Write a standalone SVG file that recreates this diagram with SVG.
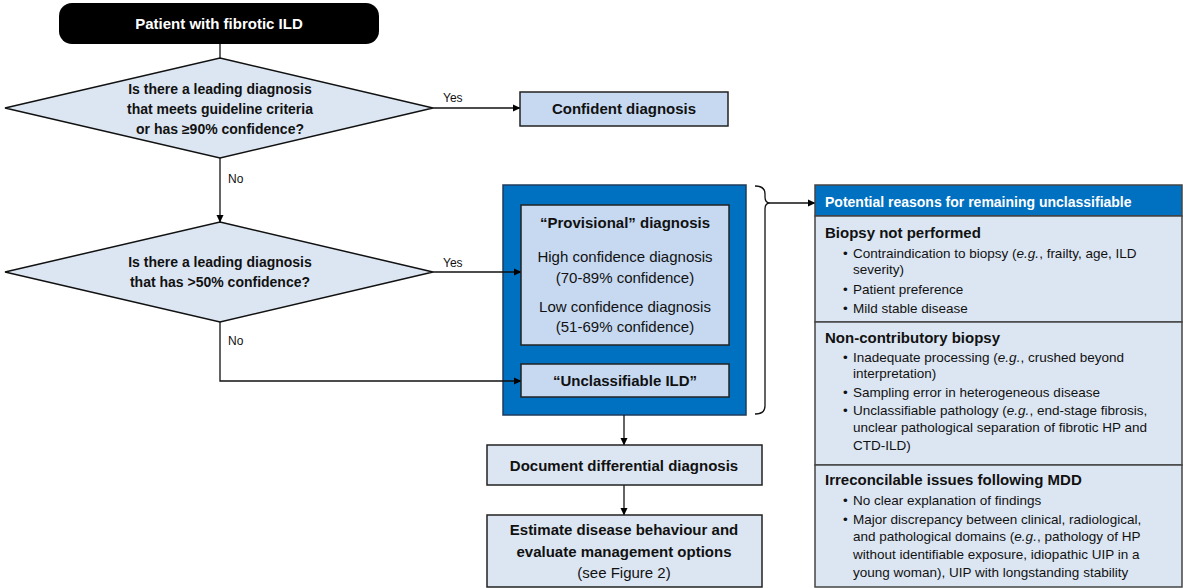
<svg xmlns="http://www.w3.org/2000/svg" width="1183" height="588" viewBox="0 0 1183 588">
<defs>
<marker id="ah" markerWidth="8" markerHeight="8" refX="7" refY="4" orient="auto" markerUnits="userSpaceOnUse">
<path d="M0,0.5 L7.5,4 L0,7.5 Z" fill="#000"/>
</marker>
<style>
text{font-family:"Liberation Sans",Arial,sans-serif;fill:#111;}
.b{font-weight:bold;}
.c{text-anchor:middle;}
.f14{font-size:14px;}
.f15{font-size:15px;}
.lbl{font-size:12px;}
.r{font-size:13.5px;}
.h{font-size:15px;font-weight:bold;}
.w{fill:#fff;}
.dia{fill:#dce6f2;stroke:#111;stroke-width:1.5;}
.box{fill:#c6d9f1;stroke:#222;stroke-width:1.5;}
.box2{fill:#dce6f2;stroke:#222;stroke-width:1.5;}
.sec{fill:#dce6f2;stroke:#444;stroke-width:1.5;}
.ln{fill:none;stroke:#111;stroke-width:1.3;}
</style>
</defs>
<rect width="1183" height="588" fill="#fff"/>

<g id="outcome-group">
<rect x="503" y="185" width="243" height="230" fill="#0070c0" stroke="#1f3b5c" stroke-width="1.5"/>
</g>

<g id="connectors">
<line class="ln" x1="220" y1="44" x2="220" y2="58"/>
<line class="ln" x1="433" y1="108" x2="520" y2="108" marker-end="url(#ah)"/>
<line class="ln" x1="220" y1="158" x2="220" y2="222" marker-end="url(#ah)"/>
<line class="ln" x1="433" y1="272" x2="521" y2="272" marker-end="url(#ah)"/>
<polyline class="ln" points="220,322 220,381 521,381" marker-end="url(#ah)"/>
<line class="ln" x1="624" y1="415" x2="624" y2="445" marker-end="url(#ah)"/>
<line class="ln" x1="624" y1="485" x2="624" y2="515" marker-end="url(#ah)"/>
<path class="ln" d="M755,186 Q765,186 765,194 L765,197 Q765,203 770,203 Q765,203 765,209 L765,406 Q765,414 755,414"/>
<line class="ln" x1="770" y1="203" x2="815" y2="203" marker-end="url(#ah)"/>
<text class="lbl" x="443" y="102">Yes</text>
<text class="lbl" x="228" y="183">No</text>
<text class="lbl" x="443" y="267">Yes</text>
<text class="lbl" x="228" y="345">No</text>
</g>

<g id="start">
<rect x="59" y="3" width="320" height="41" rx="13" fill="#000"/>
<text class="b f15 c w" x="219" y="29">Patient with fibrotic ILD</text>
</g>

<g id="decision1">
<polygon class="dia" points="220,58 433,108 220,158 5,108"/>
<text class="b f14 c" x="220" y="94">Is there a leading diagnosis</text>
<text class="b f14 c" x="220" y="114">that meets guideline criteria</text>
<text class="b f14 c" x="220" y="134">or has ≥90% confidence?</text>
</g>

<g id="confident">
<rect class="box" x="520" y="92" width="208" height="34"/>
<text class="b f15 c" x="624" y="114">Confident diagnosis</text>
</g>

<g id="decision2">
<polygon class="dia" points="220,222 433,272 220,322 5,272"/>
<text class="b f14 c" x="220" y="267">Is there a leading diagnosis</text>
<text class="b f14 c" x="220" y="287">that has &gt;50% confidence?</text>
</g>

<g id="provisional">
<rect class="box" x="521" y="205" width="208" height="140"/>
<text class="b f15 c" x="625" y="228">“Provisional” diagnosis</text>
<text class="f15 c" x="625" y="262">High confidence diagnosis</text>
<text class="f15 c" x="625" y="283">(70-89% confidence)</text>
<text class="f15 c" x="625" y="312">Low confidence diagnosis</text>
<text class="f15 c" x="625" y="332">(51-69% confidence)</text>
</g>

<g id="unclassifiable">
<rect class="box" x="521" y="364" width="208" height="33"/>
<text class="b f15 c" x="625" y="386">“Unclassifiable ILD”</text>
</g>

<g id="document">
<rect class="box2" x="487" y="445" width="275" height="40"/>
<text class="b f15 c" x="624" y="471">Document differential diagnosis</text>
</g>

<g id="estimate">
<rect class="box2" x="487" y="515" width="275" height="72"/>
<text class="b f15 c" x="624" y="535">Estimate disease behaviour and</text>
<text class="b f15 c" x="624" y="557">evaluate management options</text>
<text class="f15 c" x="624" y="578">(see Figure 2)</text>
</g>

<g id="reasons">
<rect x="815" y="185" width="367" height="31" fill="#0070c0" stroke="#444" stroke-width="1.5"/>
<text class="b f14 w" x="825" y="207">Potential reasons for remaining unclassifiable</text>
<rect class="sec" x="815" y="216" width="367" height="106"/>
<rect class="sec" x="815" y="322" width="367" height="143"/>
<rect class="sec" x="815" y="465" width="367" height="122"/>

<text class="h" x="825" y="238">Biopsy not performed</text>
<text class="r" x="843" y="258">•</text>
<text class="r" x="853" y="258">Contraindication to biopsy (<tspan font-style="italic">e.g.</tspan>, frailty, age, ILD</text>
<text class="r" x="853" y="274">severity)</text>
<text class="r" x="843" y="294">•</text>
<text class="r" x="853" y="294">Patient preference</text>
<text class="r" x="843" y="313">•</text>
<text class="r" x="853" y="313">Mild stable disease</text>

<text class="h" x="825" y="343">Non-contributory biopsy</text>
<text class="r" x="843" y="362">•</text>
<text class="r" x="853" y="362">Inadequate processing (<tspan font-style="italic">e.g.</tspan>, crushed beyond</text>
<text class="r" x="853" y="378">interpretation)</text>
<text class="r" x="843" y="397">•</text>
<text class="r" x="853" y="397">Sampling error in heterogeneous disease</text>
<text class="r" x="843" y="415">•</text>
<text class="r" x="853" y="415">Unclassifiable pathology (<tspan font-style="italic">e.g.</tspan>, end-stage fibrosis,</text>
<text class="r" x="853" y="432">unclear pathological separation of fibrotic HP and</text>
<text class="r" x="853" y="450">CTD-ILD)</text>

<text class="h" x="825" y="485">Irreconcilable issues following MDD</text>
<text class="r" x="843" y="505">•</text>
<text class="r" x="853" y="505">No clear explanation of findings</text>
<text class="r" x="843" y="524">•</text>
<text class="r" x="853" y="524">Major discrepancy between clinical, radiological,</text>
<text class="r" x="853" y="541">and pathological domains (<tspan font-style="italic">e.g.</tspan>, pathology of HP</text>
<text class="r" x="853" y="559">without identifiable exposure, idiopathic UIP in a</text>
<text class="r" x="853" y="577">young woman), UIP with longstanding stability</text>
</g>
</svg>
